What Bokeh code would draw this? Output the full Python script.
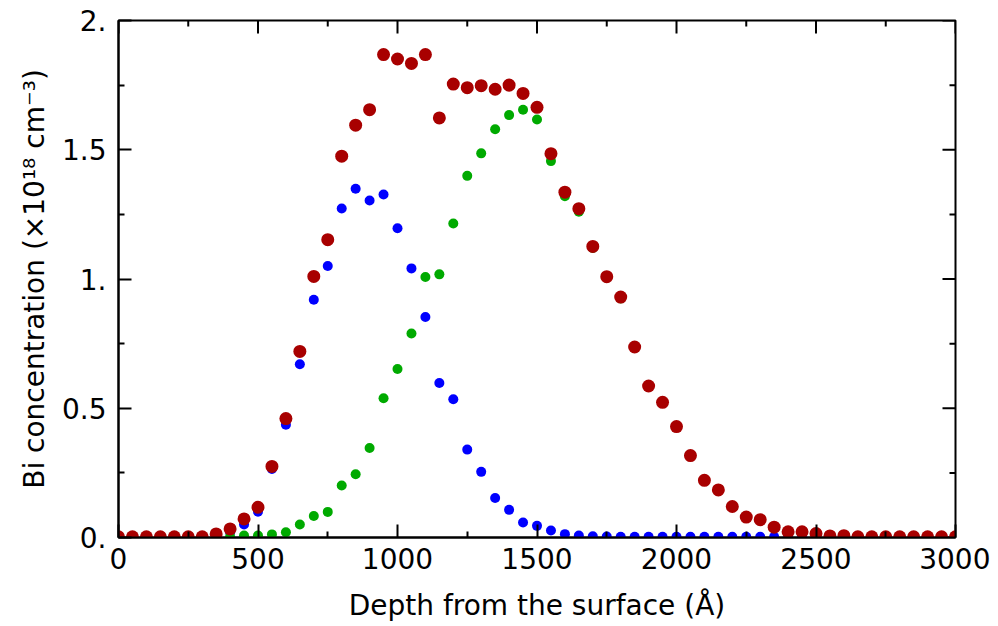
import math
from bokeh.plotting import figure
from bokeh.models import FixedTicker, Range1d, ColumnDataSource
from bokeh.embed import file_html
from bokeh.resources import INLINE

# ---- data (depth in Å, concentration in 1e18 cm^-3) ----
depth = list(range(0, 3001, 50))

total = [0.003, 0.003, 0.003, 0.003, 0.003, 0.003, 0.003, 0.014, 0.033, 0.072,
         0.117, 0.275, 0.46, 0.72, 1.01, 1.152, 1.475, 1.595, 1.655, 1.868,
         1.851, 1.834, 1.868, 1.623, 1.754, 1.740, 1.748, 1.734, 1.750, 1.718,
         1.664, 1.485, 1.336, 1.272, 1.126, 1.009, 0.930, 0.737, 0.586, 0.523,
         0.429, 0.317, 0.221, 0.184, 0.120, 0.079, 0.069, 0.040, 0.022, 0.022,
         0.015, 0.006, 0.007, 0.003, 0.003, 0.003, 0.003, 0.003, 0.003, 0.003,
         0.003]

blue_vals = [0, 0, 0, 0, 0, 0, 0, 0.005, 0.02, 0.05,
             0.10, 0.265, 0.436, 0.670, 0.920, 1.050, 1.273, 1.349, 1.304, 1.327,
             1.196, 1.041, 0.853, 0.598, 0.535, 0.340, 0.254, 0.153, 0.107, 0.058,
             0.045, 0.027, 0.013, 0.008, 0.005, 0.004, 0.003, 0.003, 0.003, 0.003,
             0.003, 0.003, 0.003, 0.003, 0.003, 0.003, 0.003, 0.003, 0, 0,
             0, 0, 0, 0, 0, 0, 0, 0, 0, 0,
             0]

green_vals = [0, 0, 0, 0, 0, 0, 0, 0, 0.003, 0.008,
              0.008, 0.012, 0.02, 0.05, 0.083, 0.099, 0.201, 0.245, 0.346, 0.539,
              0.652, 0.789, 1.008, 1.018, 1.215, 1.399, 1.486, 1.579, 1.634, 1.655,
              1.617, 1.456, 1.320, 1.26, 1.12, 1.005, 0.925, 0.735, 0.585, 0.52,
              0.427, 0.315, 0.22, 0.182, 0.118, 0.078, 0.067, 0.038, 0.02, 0.02,
              0.013, 0.004, 0.005, 0.002, 0.002, 0.002, 0.002, 0.002, 0.002, 0.002,
              0.002]

x_ticks = [0, 500, 1000, 1500, 2000, 2500, 3000]
x_minor = [250, 750, 1250, 1750, 2250, 2750]
y_ticks = [0, 0.5, 1.0, 1.5, 2.0]
y_tick_labels = ["0.", "0.5", "1.", "1.5", "2."]
y_minor = [0.25, 0.75, 1.25, 1.75]

x_label = "Depth from the surface (Å)"
y_label = "Bi concentration (×10¹⁸ cm⁻³)"

FONT = "DejaVu Sans"
FS = "28px"
MAJOR_LEN = 13
MINOR_LEN = 6

x_lo, x_hi = x_ticks[0], x_ticks[-1]
y_lo, y_hi = y_ticks[0], y_ticks[-1]

p = figure(width=990, height=626, output_backend="svg", toolbar_location=None,
           x_range=Range1d(x_lo, x_hi), y_range=Range1d(y_lo, y_hi),
           min_border_left=118, min_border_right=35,
           min_border_top=20, min_border_bottom=89,
           x_axis_label=x_label, y_axis_label=y_label)

p.xgrid.visible = False
p.ygrid.visible = False
p.outline_line_color = "black"
p.outline_line_width = 2
p.outline_line_alpha = 1.0
p.background_fill_color = "white"
p.border_fill_color = "white"


def style(ax):
    ax.axis_line_color = "black"
    ax.axis_line_width = 2
    ax.major_tick_line_color = "black"
    ax.major_tick_line_width = 2
    ax.minor_tick_line_color = "black"
    ax.minor_tick_line_width = 2
    ax.major_tick_in = MAJOR_LEN
    ax.major_tick_out = 0
    ax.minor_tick_in = MINOR_LEN
    ax.minor_tick_out = 0
    ax.major_label_text_font = FONT
    ax.major_label_text_font_size = FS
    ax.major_label_text_color = "black"
    ax.axis_label_text_font = FONT
    ax.axis_label_text_font_size = FS
    ax.axis_label_text_font_style = "normal"
    ax.axis_label_text_color = "black"


xa = p.xaxis[0]
xa.ticker = FixedTicker(ticks=x_ticks, minor_ticks=x_minor)
style(xa)
xa.major_label_standoff = 10
xa.axis_label_standoff = 17

ya = p.yaxis[0]
ya.ticker = FixedTicker(ticks=y_ticks, minor_ticks=y_minor)
ya.major_label_overrides = {v: s for v, s in zip(y_ticks, y_tick_labels)}
style(ya)
ya.major_label_standoff = 12
ya.axis_label_standoff = 8

# mirrored inward ticks on the top and right frame edges (no labels)
p.ray(x=x_ticks, y=[y_hi] * len(x_ticks), length=MAJOR_LEN, length_units="screen",
      angle=-math.pi / 2, line_color="black", line_width=2)
p.ray(x=x_minor, y=[y_hi] * len(x_minor), length=MINOR_LEN, length_units="screen",
      angle=-math.pi / 2, line_color="black", line_width=2)
p.ray(x=[x_hi] * len(y_ticks), y=y_ticks, length=MAJOR_LEN, length_units="screen",
      angle=math.pi, line_color="black", line_width=2)
p.ray(x=[x_hi] * len(y_minor), y=y_minor, length=MINOR_LEN, length_units="screen",
      angle=math.pi, line_color="black", line_width=2)

src = ColumnDataSource(dict(depth=depth, total=total, blue=blue_vals, green=green_vals))

p.scatter("depth", "blue", source=src, size=10, fill_color="#0000FF", line_color=None)
p.scatter("depth", "green", source=src, size=10, fill_color="#00AA00", line_color=None)
p.scatter("depth", "total", source=src, size=13, fill_color="#A80000", line_color=None)

open("out.html", "w").write(file_html(p, INLINE))
